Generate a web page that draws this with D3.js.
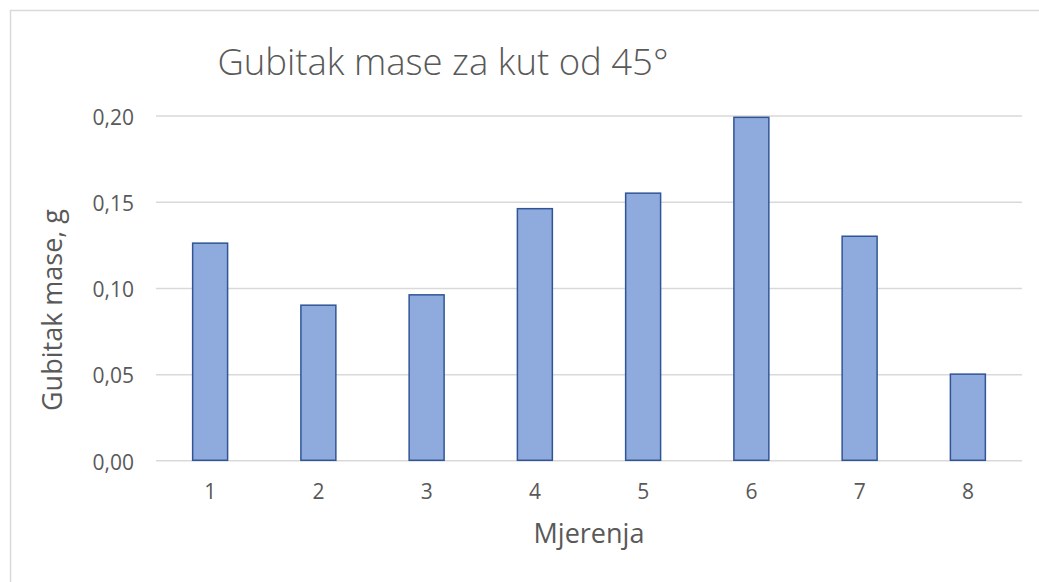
<!DOCTYPE html>
<html>
<head>
<meta charset="utf-8">
<script src="https://cdn.jsdelivr.net/npm/d3@7"></script>
<style>
  body { margin: 0; background: #fff; }
  text { font-family: "Open Sans", "Noto Sans", sans-serif; fill: #595959; }
</style>
</head>
<body>
<div id="chart"></div>
<script>
const categories = ["1", "2", "3", "4", "5", "6", "7", "8"]
const values = [0.126, 0.090, 0.096, 0.146, 0.155, 0.199, 0.130, 0.050]
const yTicks = [0, 0.05, 0.10, 0.15, 0.20]

const W = 1039, H = 582
const margin = {top: 115.6, right: 17, bottom: 121.7, left: 156}
const width = W - margin.left - margin.right
const height = H - margin.top - margin.bottom

const svg = d3.select("#chart").append("svg")
  .attr("width", W)
  .attr("height", H)

// chart frame (only left/top edges visible in the crop)
svg.append("rect")
  .attr("x", 10.5).attr("y", 10.5)
  .attr("width", W + 20).attr("height", H + 20)
  .attr("fill", "none")
  .attr("stroke", "#d9d9d9")
  .attr("stroke-width", 1.5)

const g = svg.append("g")
  .attr("transform", "translate(" + margin.left + "," + margin.top + ")")

var x = d3.scaleBand()
  .domain(categories)
  .range([0, width])
  .paddingInner(0.677)
  .paddingOuter(0.677 / 2)

var y = d3.scaleLinear()
  .domain([0, 0.20])
  .range([height, 0])

const fmt = d => d3.format(".2f")(d).replace(".", ",")

// gridlines + y labels
g.append("g")
  .attr("class", "y axis")
  .call(d3.axisLeft(y).tickValues(yTicks).tickSize(-width).tickPadding(22).tickFormat(fmt))
  .call(s => s.select(".domain").remove())
  .call(s => s.selectAll("line").attr("stroke", "#d9d9d9").attr("stroke-width", 1.5))
  .call(s => s.selectAll("text").attr("font-size", 21).attr("fill", "#595959")
    .attr("font-family", "'Open Sans', sans-serif").attr("dy", "0.42em"))

// bars
g.selectAll("rect.bar")
  .data(values)
  .enter().append("rect")
  .attr("class", "bar")
  .attr("x", (d, i) => x(categories[i]))
  .attr("y", d => y(d))
  .attr("width", x.bandwidth())
  .attr("height", d => height - y(d))
  .attr("fill", "#8faadc")
  .attr("stroke", "#2f5597")
  .attr("stroke-width", 1.5)

// x axis labels
g.append("g")
  .attr("class", "x axis")
  .attr("transform", "translate(0," + height + ")")
  .call(d3.axisBottom(x).tickSize(0).tickPadding(24))
  .call(s => s.select(".domain").remove())
  .call(s => s.selectAll("text").attr("font-size", 21).attr("fill", "#595959")
    .attr("font-family", "'Open Sans', sans-serif"))

// title
svg.append("text")
  .attr("x", 443).attr("y", 75)
  .attr("text-anchor", "middle")
  .attr("font-size", 36.5)
  .attr("font-weight", 300)
  .text("Gubitak mase za kut od 45°")

// axis titles
svg.append("text")
  .attr("x", margin.left + width / 2).attr("y", 543)
  .attr("text-anchor", "middle")
  .attr("font-size", 27)
  .text("Mjerenja")

svg.append("text")
  .attr("transform", "translate(62,310) rotate(-90)")
  .attr("text-anchor", "middle")
  .attr("font-size", 27)
  .text("Gubitak mase, g")
</script>
</body>
</html>
